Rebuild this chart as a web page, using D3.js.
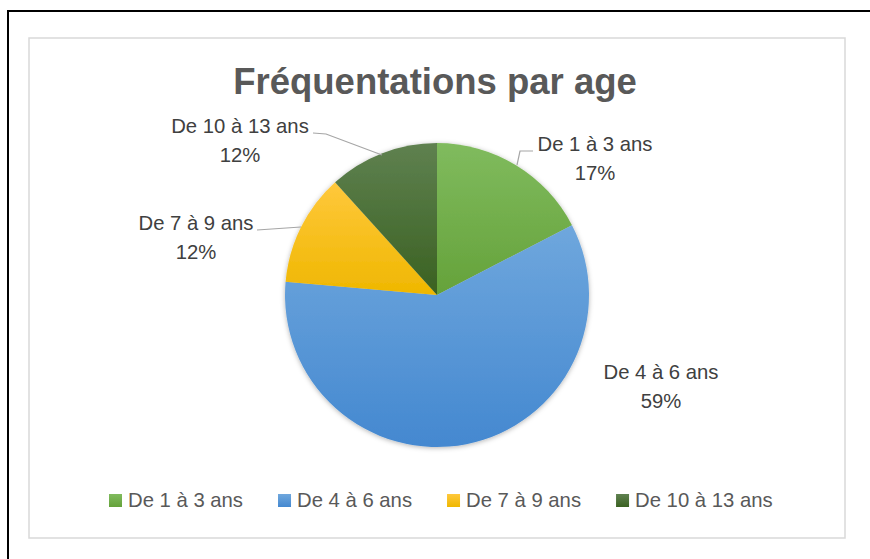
<!DOCTYPE html>
<html>
<head>
<meta charset="utf-8">
<script src="https://cdn.jsdelivr.net/npm/d3@7/dist/d3.min.js"></script>
<style>
  html, body { margin: 0; padding: 0; background: #fff; }
  svg { display: block; }
  text { font-family: "Liberation Sans", Arial, sans-serif; }
</style>
</head>
<body>
<svg id="chart" width="870" height="559"></svg>
<script>
// ---- data ----
const categories = ["De 1 à 3 ans", "De 4 à 6 ans", "De 7 à 9 ans", "De 10 à 13 ans"];
const values = [17.4, 59.0, 11.9, 11.7];
const percentLabels = ["17%", "59%", "12%", "12%"];
const title = "Fréquentations par age";

// ---- styles ----
const colorsTop = ["#80bb5e", "#6fa7dd", "#ffc83c", "#5f8150"];
const colorsBottom = ["#65a23a", "#4488d0", "#efb700", "#3a6121"];

const svg = d3.select("#chart");
const W = 870, H = 559;

svg.append("rect").attr("width", W).attr("height", H).attr("fill", "#fff");
// outer black frame (only top & left visible)
svg.append("rect").attr("x", 8).attr("y", 11).attr("width", 900).attr("height", 600)
  .attr("fill", "none").attr("stroke", "#000").attr("stroke-width", 2);
// chart area frame
svg.append("rect").attr("x", 29).attr("y", 38).attr("width", 816).attr("height", 500)
  .attr("fill", "#fff").attr("stroke", "#d9d9d9").attr("stroke-width", 1.5);

// title
svg.append("text").attr("x", 435).attr("y", 94).attr("text-anchor", "middle")
  .attr("font-size", 36.5).attr("font-weight", "bold").attr("fill", "#595959").text(title);

const defs = svg.append("defs");
categories.forEach((c, i) => {
  const g = defs.append("linearGradient").attr("id", "grad" + i)
    .attr("x1", 0).attr("y1", 0).attr("x2", 0).attr("y2", 1);
  g.append("stop").attr("offset", "0%").attr("stop-color", colorsTop[i]);
  g.append("stop").attr("offset", "100%").attr("stop-color", colorsBottom[i]);
});
const f = defs.append("filter").attr("id", "shadow").attr("x", "-10%").attr("y", "-10%").attr("width", "120%").attr("height", "120%");
f.append("feDropShadow").attr("dx", 0).attr("dy", 1).attr("stdDeviation", 2.5)
  .attr("flood-color", "#000").attr("flood-opacity", 0.3);

const cx = 437, cy = 295, R = 152;
const pie = d3.pie().sort(null).value(d => d)(values);
const arc = d3.arc().innerRadius(0).outerRadius(R);

const gp = svg.append("g").attr("transform", `translate(${cx},${cy})`).attr("filter", "url(#shadow)");
gp.selectAll("path").data(pie).join("path")
  .attr("d", arc).attr("fill", (d, i) => `url(#grad${i})`);

// leader lines
const leaders = [
  [[517, 165], [520, 151], [533, 151]],
  null,
  [[257, 230], [301, 227]],
  [[313, 133], [326, 134], [382, 155]]
];
leaders.forEach(pts => {
  if (!pts) return;
  svg.append("path").attr("d", d3.line()(pts)).attr("fill", "none")
    .attr("stroke", "#a6a6a6").attr("stroke-width", 1.2);
});

// data labels
const labelPos = [[595, 151], [661, 379], [196, 230], [240, 133]];
categories.forEach((c, i) => {
  const t = svg.append("text").attr("text-anchor", "middle").attr("font-size", 20.3).attr("fill", "#404040");
  t.append("tspan").attr("x", labelPos[i][0]).attr("y", labelPos[i][1]).text(c);
  t.append("tspan").attr("x", labelPos[i][0]).attr("y", labelPos[i][1] + 29).text(percentLabels[i]);
});

// legend
let lx = 109;
const ly = 507;
categories.forEach((c, i) => {
  svg.append("rect").attr("x", lx).attr("y", ly - 13).attr("width", 13).attr("height", 13)
    .attr("fill", `url(#grad${i})`);
  const t = svg.append("text").attr("x", lx + 19).attr("y", ly).attr("font-size", 20.3)
    .attr("fill", "#595959").text(c);
  lx = lx + 19 + t.node().getComputedTextLength() + 35;
});
</script>
</body>
</html>
